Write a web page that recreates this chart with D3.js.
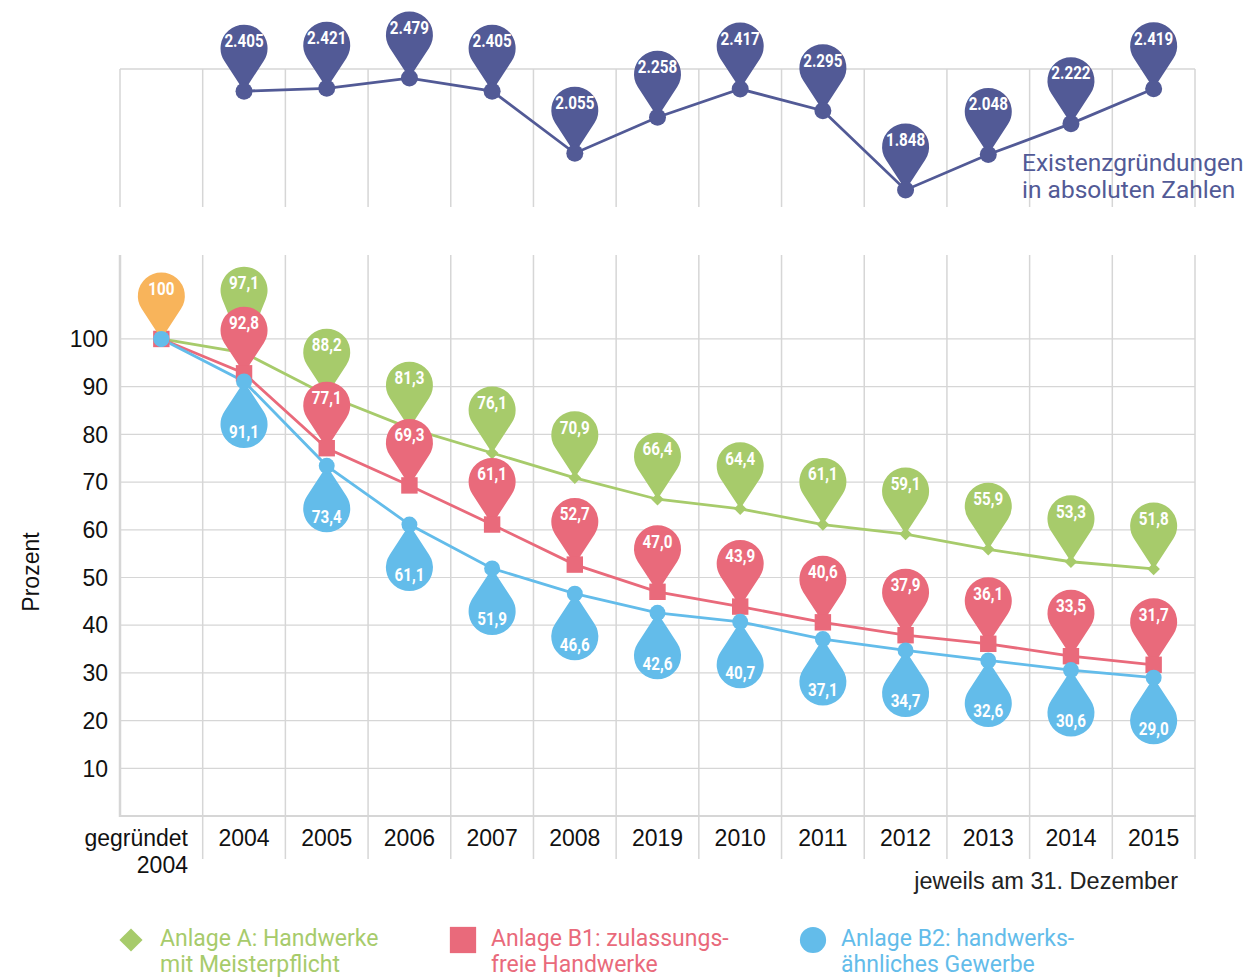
<!DOCTYPE html>
<html>
<head>
<meta charset="utf-8">
<script src="https://cdn.jsdelivr.net/npm/d3@7"></script>
<style>
  body { margin: 0; background: #fff; }
  svg { display: block; }
</style>
</head>
<body>
<div id="chart"></div>
<script>
// values
const categories = ["gegründet 2004", "2004", "2005", "2006", "2007", "2008", "2019", "2010", "2011", "2012", "2013", "2014", "2015"];
const gruendungen = [null, 2405, 2421, 2479, 2405, 2055, 2258, 2417, 2295, 1848, 2048, 2222, 2419];
const anlageA = [100, 97.1, 88.2, 81.3, 76.1, 70.9, 66.4, 64.4, 61.1, 59.1, 55.9, 53.3, 51.8];
const anlageB1 = [100, 92.8, 77.1, 69.3, 61.1, 52.7, 47.0, 43.9, 40.6, 37.9, 36.1, 33.5, 31.7];
const anlageB2 = [100, 91.1, 73.4, 61.1, 51.9, 46.6, 42.6, 40.7, 37.1, 34.7, 32.6, 30.6, 29.0];
const yTicks = [10, 20, 30, 40, 50, 60, 70, 80, 90, 100];

const colors = {
  A: "#a7cb6b",
  B1: "#e96a7b",
  B2: "#63bcea",
  start: "#f8b45b",
  abs: "#525a96"
};

const width = 1252, height = 979;
const de = d3.formatLocale({ decimal: ",", thousands: ".", grouping: [3], currency: ["", "€"] });
const fmtPct = de.format(".1f");
const fmtAbs = de.format(",d");
const axisFont = "'Liberation Sans', Arial, sans-serif";

const svg = d3.select("#chart").append("svg")
  .attr("width", width)
  .attr("height", height);

const x = d3.scaleBand()
  .domain(categories)
  .range([120, 1195])
  .padding(0);
const cx = c => x(c) + x.bandwidth() / 2;

const yTop = d3.scaleLinear().domain([1752, 2530]).range([207, 69]);
const y = d3.scaleLinear().domain([0, 117.6]).range([816, 255]);

const gridColor = "#d6d6d6";
const bounds = categories.map(c => x(c)).concat([x.range()[1]]);

// pin: tip at (0,0), round head above at distance h
function pinPath(r, h) {
  const L = Math.sqrt(h * h - r * r);
  const tx = L * r / h, ty = -L * L / h;
  return `M0,0L${tx},${ty}A${r},${r} 0 1 0 ${-tx},${ty}Z`;
}

function drawPin(g, px, py, color, label, up, fontSize, extra = 0) {
  const p = g.append("g").attr("transform", `translate(${px},${py})`);
  p.append("path")
    .attr("d", pinPath(23.5, 43 + extra))
    .attr("transform", up ? null : "scale(1,-1)")
    .attr("fill", color);
  p.append("text")
    .attr("transform", `translate(0,${up ? -51 - extra : 50 + extra}) scale(0.8,1)`)
    .attr("text-anchor", "middle")
    .attr("dy", "0.36em")
    .attr("font-family", "Roboto, 'Liberation Sans', sans-serif")
    .attr("font-weight", "bold")
    .attr("font-size", fontSize)
    .attr("fill", "#fff")
    .text(label);
}

// ---------- top chart: absolute numbers ----------
const topG = svg.append("g");
topG.append("line")
  .attr("x1", 120).attr("x2", 1195).attr("y1", 69).attr("y2", 69)
  .attr("stroke", gridColor).attr("stroke-width", 1.5);
topG.selectAll("line.v")
  .data(bounds)
  .join("line")
  .attr("class", "v")
  .attr("x1", d => d).attr("x2", d => d)
  .attr("y1", 69).attr("y2", 207)
  .attr("stroke", gridColor).attr("stroke-width", 1.5);

const absData = categories.map((c, i) => ({ c, v: gruendungen[i] })).filter(d => d.v != null);

topG.append("path")
  .datum(absData)
  .attr("fill", "none")
  .attr("stroke", colors.abs)
  .attr("stroke-width", 2.8)
  .attr("d", d3.line().x(d => cx(d.c)).y(d => yTop(d.v)));

absData.forEach(d => {
  drawPin(topG, cx(d.c), yTop(d.v), colors.abs, fmtAbs(d.v), true, 19);
  topG.append("circle")
    .attr("cx", cx(d.c)).attr("cy", yTop(d.v)).attr("r", 8.5)
    .attr("fill", colors.abs);
});

topG.append("text")
  .attr("font-family", "Roboto, sans-serif")
  .attr("font-size", 24.5)
  .attr("fill", colors.abs)
  .selectAll("tspan")
  .data(["Existenzgründungen", "in absoluten Zahlen"])
  .join("tspan")
  .attr("x", 1022)
  .attr("y", (d, i) => 171 + i * 27)
  .text(d => d);

// ---------- bottom chart: percentages ----------
const grid = svg.append("g");
grid.selectAll("line.h")
  .data(yTicks)
  .join("line")
  .attr("class", "h")
  .attr("x1", 120).attr("x2", 1195)
  .attr("y1", d => y(d)).attr("y2", d => y(d))
  .attr("stroke", gridColor).attr("stroke-width", 1.2);
grid.selectAll("line.v")
  .data(bounds.slice(1))
  .join("line")
  .attr("class", "v")
  .attr("x1", d => d).attr("x2", d => d)
  .attr("y1", 255).attr("y2", 859)
  .attr("stroke", gridColor).attr("stroke-width", 1.5);
grid.append("line")
  .attr("x1", 120).attr("x2", 120).attr("y1", 255).attr("y2", 817)
  .attr("stroke", gridColor).attr("stroke-width", 2.5);
grid.append("line")
  .attr("x1", 119).attr("x2", 1196).attr("y1", 816).attr("y2", 816)
  .attr("stroke", gridColor).attr("stroke-width", 2);

// y axis labels
svg.selectAll("text.ytick")
  .data(yTicks)
  .join("text")
  .attr("class", "ytick")
  .attr("x", 108)
  .attr("y", d => y(d))
  .attr("dy", "0.36em")
  .attr("text-anchor", "end")
  .attr("font-family", axisFont)
  .attr("font-size", 23)
  .attr("fill", "#111")
  .text(d => d);

svg.append("text")
  .attr("transform", "translate(39,572) rotate(-90)")
  .attr("text-anchor", "middle")
  .attr("font-family", axisFont)
  .attr("font-size", 23)
  .attr("fill", "#111")
  .text("Prozent");

// x axis labels
svg.selectAll("text.xtick")
  .data(categories.slice(1))
  .join("text")
  .attr("class", "xtick")
  .attr("x", d => cx(d))
  .attr("y", 846)
  .attr("text-anchor", "middle")
  .attr("font-family", axisFont)
  .attr("font-size", 23)
  .attr("fill", "#111")
  .text(d => d);

svg.append("text")
  .attr("text-anchor", "end")
  .attr("font-family", axisFont)
  .attr("font-size", 23)
  .attr("fill", "#111")
  .selectAll("tspan")
  .data(categories[0].split(" "))
  .join("tspan")
  .attr("x", 188)
  .attr("y", (d, i) => 846 + i * 27)
  .text(d => d);

svg.append("text")
  .attr("x", 1178).attr("y", 889)
  .attr("text-anchor", "end")
  .attr("font-family", axisFont)
  .attr("font-size", 23.5)
  .attr("fill", "#222")
  .text("jeweils am 31. Dezember");

// series
const series = [
  { key: "A", values: anlageA, color: colors.A, up: true, marker: "diamond" },
  { key: "B1", values: anlageB1, color: colors.B1, up: true, marker: "square" },
  { key: "B2", values: anlageB2, color: colors.B2, up: false, marker: "circle" }
];

const lines = svg.append("g");
series.forEach(s => {
  lines.append("path")
    .datum(s.values)
    .attr("fill", "none")
    .attr("stroke", s.color)
    .attr("stroke-width", 2.8)
    .attr("d", d3.line().x((d, i) => cx(categories[i])).y(d => y(d)));
});

const symbols = {
  diamond: d3.symbol().type(d3.symbolDiamond2).size(100),
  square: d3.symbol().type(d3.symbolSquare).size(270),
  circle: d3.symbol().type(d3.symbolCircle).size(200)
};

const marks = svg.append("g");
series.forEach(s => {
  s.values.forEach((v, i) => {
    const px = cx(categories[i]), py = y(v);
    // lift the green pin where the red pin head would hide it
    let extra = 0;
    if (s.key === "A") {
      const gap = y(anlageB1[i]) - py;
      extra = Math.max(0, 40 - gap);
    }
    if (i > 0) drawPin(marks, px, py, s.color, fmtPct(v), s.up, 19, extra);
    marks.append("path")
      .attr("d", symbols[s.marker]())
      .attr("transform", `translate(${px},${py})`)
      .attr("fill", s.color);
  });
});

// starting value
drawPin(marks, cx(categories[0]), y(anlageA[0]), colors.start, "100", true, 19);
marks.append("path")
  .attr("d", symbols.circle())
  .attr("transform", `translate(${cx(categories[0])},${y(anlageB2[0])})`)
  .attr("fill", colors.B2);

// legend
const legendItems = [
  { x: 131, tx: 160, color: colors.A, marker: "diamond", lines: ["Anlage A: Handwerke", "mit Meisterpflicht"] },
  { x: 463, tx: 491, color: colors.B1, marker: "square", lines: ["Anlage B1: zulassungs-", "freie Handwerke"] },
  { x: 813, tx: 841, color: colors.B2, marker: "circle", lines: ["Anlage B2: handwerks-", "ähnliches Gewerbe"] }
];
const legendSym = {
  diamond: d3.symbol().type(d3.symbolDiamond2).size(340),
  square: d3.symbol().type(d3.symbolSquare).size(690),
  circle: d3.symbol().type(d3.symbolCircle).size(540)
};
const legend = svg.append("g");
legendItems.forEach(it => {
  legend.append("path")
    .attr("d", legendSym[it.marker]())
    .attr("transform", `translate(${it.x},940)`)
    .attr("fill", it.color);
  legend.append("text")
    .attr("font-family", "Roboto, sans-serif")
    .attr("font-size", 23)
    .attr("fill", it.color)
    .selectAll("tspan")
    .data(it.lines)
    .join("tspan")
    .attr("x", it.tx)
    .attr("y", (d, i) => 946 + i * 26)
    .text(d => d);
});
</script>
</body>
</html>
